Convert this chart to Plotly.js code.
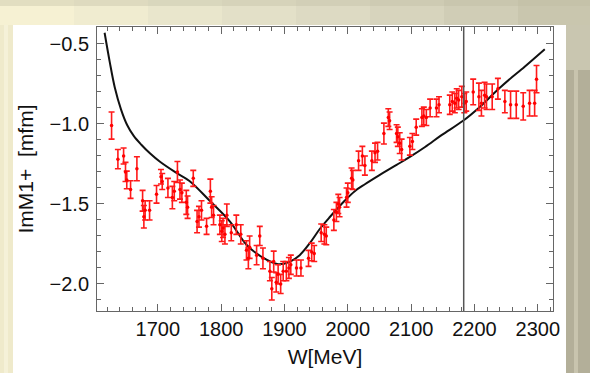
<!DOCTYPE html>
<html>
<head>
<meta charset="utf-8">
<script src="https://cdn.plot.ly/plotly-3.0.1.min.js"></script>
<style>
  html, body { margin: 0; padding: 0; background: #e8e4c8; }
  #chart { width: 590px; height: 373px; }
</style>
</head>
<body>
<div id="chart"></div>
<script>
// Measured multipole: W [MeV], Im M1+ [mfm] and its uncertainty
const energyW = [
  1627, 1637, 1646, 1649, 1651, 1657, 1667, 1676, 1678, 1680,
  1687, 1698, 1705, 1707, 1716, 1723, 1726, 1731, 1735, 1738,
  1745, 1747, 1756, 1762, 1765, 1769, 1777, 1783, 1785, 1788,
  1798, 1801, 1803, 1806, 1809, 1816, 1824, 1831, 1840, 1843,
  1845, 1856, 1861, 1866, 1877, 1880, 1883, 1887, 1890, 1894,
  1898, 1903, 1907, 1910, 1919, 1926, 1938, 1943, 1947, 1958,
  1963, 1966, 1978, 1982, 1985, 1987, 1998, 2000, 2006, 2008,
  2017, 2023, 2027, 2038, 2043, 2047, 2057, 2064, 2066, 2077,
  2079, 2082, 2085, 2098, 2102, 2108, 2117, 2120, 2124, 2130,
  2140, 2144, 2161, 2165, 2169, 2172, 2175, 2180, 2184, 2187,
  2198, 2207, 2211, 2216, 2219, 2228, 2237, 2248, 2257, 2266,
  2277, 2287, 2295, 2298
];
const imM1 = [
  -1.01, -1.22, -1.20, -1.30, -1.35, -1.41, -1.28, -1.48, -1.58, -1.54,
  -1.54, -1.44, -1.33, -1.36, -1.40, -1.46, -1.42, -1.30, -1.41, -1.43,
  -1.49, -1.52, -1.34, -1.61, -1.58, -1.54, -1.64, -1.42, -1.52, -1.57,
  -1.63, -1.67, -1.65, -1.69, -1.57, -1.68, -1.63, -1.69, -1.79, -1.84,
  -1.77, -1.82, -1.70, -1.84, -1.92, -2.03, -1.86, -1.99, -1.94, -2.00,
  -1.92, -1.92, -1.90, -1.88, -1.90, -1.90, -1.84, -1.80, -1.81, -1.68,
  -1.69, -1.70, -1.60, -1.55, -1.50, -1.52, -1.46, -1.43, -1.34, -1.35,
  -1.23, -1.20, -1.26, -1.23, -1.18, -1.17, -1.06, -0.96, -0.98, -1.06,
  -1.08, -1.12, -1.16, -1.14, -1.11, -1.02, -0.96, -0.95, -0.96, -0.90,
  -0.90, -0.88, -0.88, -0.86, -0.87, -0.84, -0.85, -0.83, -0.87, -0.86,
  -0.80, -0.83, -0.87, -0.82, -0.83, -0.83, -0.78, -0.86, -0.88, -0.88,
  -0.89, -0.87, -0.87, -0.72
];
const imM1Err = [
  0.085, 0.06, 0.05, 0.06, 0.055, 0.055, 0.075, 0.065, 0.07, 0.06,
  0.06, 0.055, 0.045, 0.05, 0.06, 0.07, 0.06, 0.065, 0.06, 0.06,
  0.075, 0.07, 0.05, 0.07, 0.065, 0.06, 0.05, 0.075, 0.065, 0.06,
  0.06, 0.065, 0.06, 0.06, 0.07, 0.05, 0.06, 0.06, 0.06, 0.065,
  0.07, 0.06, 0.06, 0.065, 0.06, 0.07, 0.065, 0.06, 0.06, 0.06,
  0.06, 0.06, 0.065, 0.06, 0.05, 0.05, 0.05, 0.055, 0.05, 0.055,
  0.06, 0.055, 0.065, 0.06, 0.06, 0.06, 0.06, 0.06, 0.065, 0.06,
  0.06, 0.06, 0.06, 0.06, 0.06, 0.055, 0.065, 0.055, 0.055, 0.055,
  0.06, 0.065, 0.065, 0.055, 0.05, 0.05, 0.055, 0.055, 0.05, 0.055,
  0.055, 0.05, 0.06, 0.06, 0.06, 0.06, 0.06, 0.065, 0.06, 0.06,
  0.08, 0.085, 0.08, 0.08, 0.08, 0.08, 0.065, 0.07, 0.085, 0.085,
  0.085, 0.08, 0.08, 0.085
];

// Model curve
const fitW = [
  1616, 1624, 1632, 1642, 1652, 1662, 1674, 1688, 1703, 1727,
  1750, 1782, 1814, 1840, 1866, 1890, 1908, 1924, 1940, 1956,
  1972, 1995, 2011, 2027, 2050, 2077, 2098, 2122, 2148, 2182,
  2208, 2237, 2260, 2274, 2311
];
const fitImM1 = [
  -0.43, -0.61, -0.77, -0.91, -1.01, -1.075, -1.13, -1.185, -1.235, -1.30,
  -1.356, -1.48, -1.61, -1.755, -1.836, -1.877, -1.862, -1.82, -1.745, -1.655,
  -1.58, -1.48, -1.42, -1.377, -1.32, -1.256, -1.206, -1.144, -1.07, -0.98,
  -0.895, -0.785, -0.705, -0.66, -0.533
];

// Energy marked by the vertical line
const markerW = [2183];

const xTickVals = [1700, 1800, 1900, 2000, 2100, 2200, 2300];
const yTickVals = [-2.0, -1.5, -1.0, -0.5];

// ---- page geometry (pixels) ----
const W = 590, H = 373;
const M = { l: 97, r: 37, t: 27, b: 62 };
const pw = W - M.l - M.r, ph = H - M.t - M.b;
const px = v => (v - M.l) / pw;
const py = v => (H - M.b - v) / ph;

function band(x0, x1, y0, y1, color) {
  return {
    type: 'rect', xref: 'paper', yref: 'paper', layer: 'below',
    x0: px(x0), x1: px(x1), y0: py(y1), y1: py(y0),
    fillcolor: color, line: { width: 0 }
  };
}

const frame = [];
// top strip, cream fading to grey
const topColors = ['#f6f1d3', '#f0ecd0', '#e9e6cc', '#e3e0c8', '#dddac3', '#d7d4bd', '#d0cdb6', '#c9c6ae'];
topColors.forEach((c, i) => frame.push(band(i * 74, (i + 1) * 74, 0, 25, c)));
frame.push(band(0, 590, 0, 6, 'rgba(190,186,160,0.35)'));
// left strip
frame.push(band(0, 13, 25, 373, '#efeacb'));
frame.push(band(4, 8, 25, 373, '#f5f1d8'));
// right strip
frame.push(band(566, 590, 25, 373, '#b3af99'));
frame.push(band(574, 578, 25, 373, '#c8c4ae'));
frame.push(band(566, 590, 25, 70, '#c9c6b0'));
// white panel
frame.push(band(13, 566, 25, 373, '#ffffff'));

const axisColor = '#666666';
const font = { family: 'Liberation Sans, Arial, sans-serif', size: 20, color: '#111111' };

const traces = [
  {
    x: fitW, y: fitImM1, type: 'scatter', mode: 'lines',
    line: { color: '#111111', width: 2, shape: 'spline', smoothing: 1 },
    hoverinfo: 'skip'
  },
  {
    x: energyW, y: imM1, type: 'scatter', mode: 'markers',
    marker: { color: '#ff0000', size: 3.5 },
    error_y: { type: 'data', array: imM1Err, visible: true, color: '#ff1a1a', thickness: 1.6, width: 3 }
  }
];

const layout = {
  width: W, height: H,
  margin: M,
  paper_bgcolor: '#e8e4c8',
  plot_bgcolor: '#ffffff',
  showlegend: false,
  font: font,
  shapes: frame.concat([{
    type: 'line', xref: 'x', yref: 'paper',
    x0: markerW[0], x1: markerW[0], y0: 0, y1: 1,
    line: { color: '#555555', width: 1.5 }
  }]),
  xaxis: {
    range: [1604, 2324],
    tickvals: xTickVals, ticktext: xTickVals.map(String),
    ticks: 'inside', ticklen: 7, tickwidth: 1, tickcolor: axisColor,
    showline: true, linecolor: axisColor, linewidth: 1, mirror: 'allticks',
    showgrid: false, zeroline: false,
    minor: { dtick: 20, tick0: 1600, ticks: 'inside', ticklen: 4, tickcolor: axisColor, showgrid: false },
    tickfont: font,
    title: { text: 'W[MeV]', font: { family: font.family, size: 21, color: '#111111' }, standoff: 10 }
  },
  yaxis: {
    range: [-2.169, -0.394],
    tickvals: yTickVals, tickformat: '.1f',
    ticks: 'inside', ticklen: 7, tickwidth: 1, tickcolor: axisColor,
    showline: true, linecolor: axisColor, linewidth: 1, mirror: 'allticks',
    showgrid: false, zeroline: false,
    minor: { dtick: 0.1, tick0: -2.0, ticks: 'inside', ticklen: 4, tickcolor: axisColor, showgrid: false },
    tickfont: font, ticklabelstandoff: 3,
    title: { text: 'ImM1+  [mfm]', font: { family: font.family, size: 21, color: '#111111' }, standoff: 10 }
  }
};

Plotly.newPlot('chart', traces, layout, { staticPlot: true, displayModeBar: false });
</script>
</body>
</html>
